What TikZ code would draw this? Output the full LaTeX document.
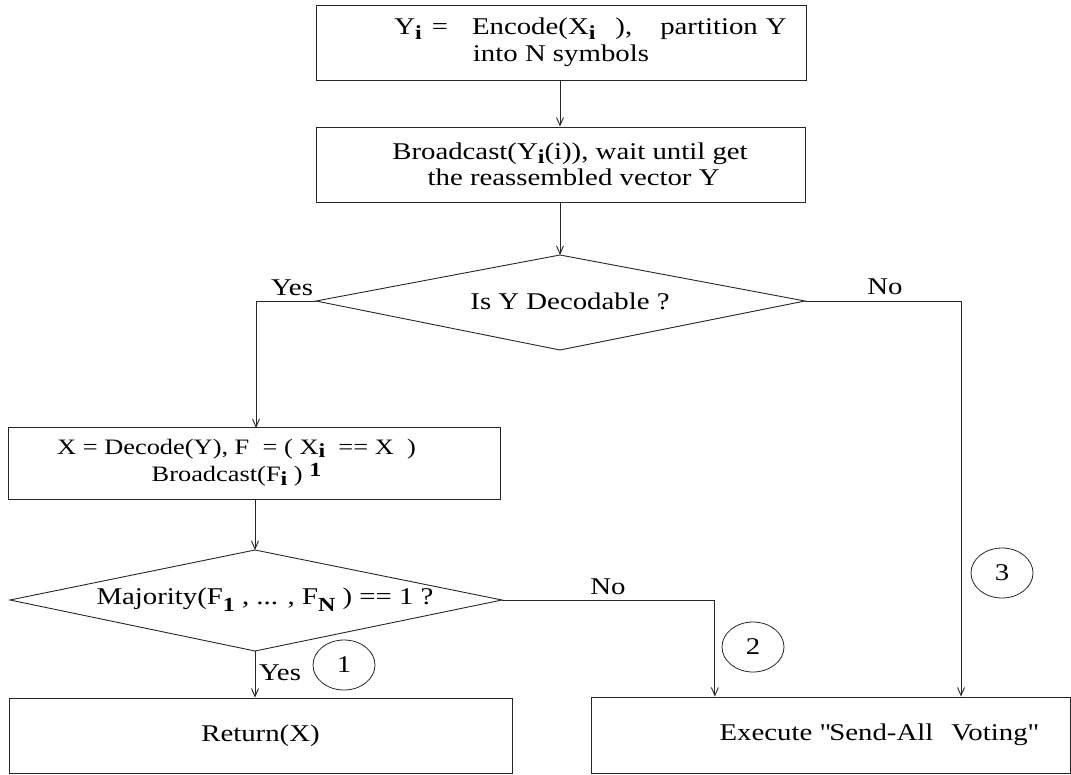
\documentclass[tikz,border=0pt]{standalone}
\usepackage{fontspec}
\setmainfont[FakeStretch=1.2]{Liberation Serif}
\usetikzlibrary{shapes.geometric,arrows.meta,calc}
\newcommand{\dnsub}[2][6pt]{\raisebox{-#1}{\fontsize{20}{20}\selectfont\textbf{#2}}}
\newcommand{\upsup}[2][9pt]{\raisebox{#1}{\fontsize{20}{20}\selectfont\textbf{#2}}}
\begin{document}
\begin{tikzpicture}[x=1pt,y=-1pt,
  every node/.style={font=\fontsize{24}{26}\selectfont},
  procbox/.style={draw=black!85,line width=0.9pt,rectangle,inner sep=0pt,align=center},
  decis/.style={draw=black!85,line width=0.9pt},
  conn/.style={draw=black!85,line width=0.9pt,-{Straight Barb[length=8pt,width=7pt]}},
  lbl/.style={inner sep=0pt},
  tag/.style={draw=black!85,line width=0.8pt,ellipse,minimum width=62pt,minimum height=50pt,inner sep=0pt}]
\useasboundingbox (0,0) rectangle (1071,774);

% boxes
\node[procbox,minimum width=490pt,minimum height=75pt,font=\fontsize{24}{27}\selectfont] (b1) at (561,42.5)
  {\hspace*{59pt}Y\dnsub[5pt]{i}\hspace{10pt}=\hspace{24pt}Encode(X\dnsub[5pt]{i}\hspace{20pt}),\hspace{28pt}partition\hspace{8pt}Y\\into N symbols};
\node[procbox,minimum width=489pt,minimum height=75pt] (b2) at (561,164.5)
  {\hspace*{18pt}Broadcast(Y\dnsub[4pt]{i}(i)), wait until get\\\hspace*{18pt}\ the reassembled vector Y};
\node[procbox,minimum width=492pt,minimum height=72pt,font=\fontsize{22}{27}\selectfont] (b3) at (254.5,463)
  {X = Decode(Y), F\ \ = ( X\dnsub[3pt]{i}\ \ == X\ \ )\hspace*{36pt}\\Broadcast(F\dnsub[4pt]{i} )\ \upsup[5pt]{1}\hspace*{36pt}};
\node[procbox,minimum width=503pt,minimum height=75pt] (b5) at (260.5,735.5) {Return(X)};
\node[procbox,minimum width=479pt,minimum height=76pt] (b4) at (830.5,735) {\hspace*{96pt}Execute \textquotedbl Send-All\hspace{18pt}Voting\textquotedbl};

% diamond 1
\coordinate (d1t) at (560,255);
\coordinate (d1r) at (805,301);
\coordinate (d1b) at (560,350);
\coordinate (d1l) at (316,301);
\draw[decis] (d1t) -- (d1r) -- (d1b) -- (d1l) -- cycle;
\node[lbl] (d1txt) at (570,301) {Is Y Decodable ?};

% diamond 2
\coordinate (d2t) at (255,550);
\coordinate (d2r) at (502,600);
\coordinate (d2b) at (255,651);
\coordinate (d2l) at (10,600);
\draw[decis] (d2t) -- (d2r) -- (d2b) -- (d2l) -- cycle;
\node[lbl] (d2txt) at (265,600) {Majority(F\dnsub[7pt]{1} , ... , F\dnsub[7pt]{N} ) == 1 ?};

% connectors
\draw[conn] (b1.south -| d1t) -- (b2.north -| d1t);
\draw[conn] (b2.south -| d1t) -- (d1t);
\coordinate (b3in) at (256,428);
\draw[conn] (d1l) -| (b3in);
\draw[conn] (b3.south -| d2t) -- (d2t);
\draw[conn] (d2b) -- (d2b |- b5.north);
\coordinate (b4inA) at ($(b4.north west)!0.259!(b4.north east)$);
\coordinate (b4inB) at ($(b4.north west)!0.772!(b4.north east)$);
\draw[conn] (d2r) -| (b4inA);
\draw[conn] (d1r) -| (b4inB);

% labels
\node[lbl] (yes1) at (292,288) {Yes};
\node[lbl] (no1) at (885,287) {No};
\node[lbl] (no2) at (608,587) {No};
\node[lbl] (yes2) at (280,673) {Yes};

% numbered tags
\node[tag] (t1) at (344,665) {1};
\node[tag] (t2) at (753,647) {2};
\node[tag] (t3) at (1002,573) {3};
\end{tikzpicture}
\end{document}
